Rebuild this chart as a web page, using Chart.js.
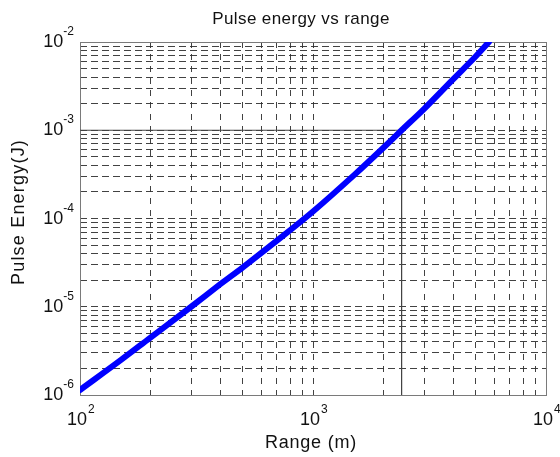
<!DOCTYPE html>
<html>
<head>
<meta charset="utf-8">
<script src="https://cdn.jsdelivr.net/npm/chart.js@4.4.0/dist/chart.umd.min.js"></script>
<style>
  html, body { margin: 0; padding: 0; background: #fff; }
  #wrap { width: 560px; height: 457px; }
</style>
</head>
<body>
<div id="wrap"><canvas id="chart" width="560" height="457"></canvas></div>
<script>
// Pulse energy vs range (log-log)
const rangeM   = [100, 150, 200, 300, 400, 500, 700, 1000, 1500, 2000, 2400, 3000, 4000, 5000, 5690];
const energyJ  = [1.14e-6, 2.5e-6, 4.45e-6, 1.0e-5, 1.8e-5, 2.8e-5, 5.6e-5, 1.2e-4, 3.1e-4, 6.3e-4, 1.0e-3, 1.75e-3, 3.8e-3, 6.9e-3, 1.0e-2];

// reference marker: 1 mJ at ~2.4 km
const refRange  = [100, 2400, 2400];
const refEnergy = [1e-3, 1e-3, 1e-6];

const xDecades = [1e2, 1e3, 1e4];
const yDecades = [1e-6, 1e-5, 1e-4, 1e-3, 1e-2];
const minorSteps = [1, 2, 3, 4, 5, 6, 7, 8, 9];
const xExp = ['2', '3', '4'];
const yExp = ['-6', '-5', '-4', '-3', '-2'];

function gridValues(decades) {
  const out = [];
  decades.forEach((d, i) => {
    if (i === decades.length - 1) { out.push(d); return; }
    minorSteps.forEach(s => out.push(d * s));
  });
  return out;
}
const xTicks = gridValues(xDecades);
const yTicks = gridValues(yDecades);

const FONT = '"Liberation Sans", Arial, sans-serif';

const boxPlugin = {
  id: 'box',
  beforeDatasetsDraw(chart) {
    const { ctx, chartArea: a } = chart;
    ctx.save();
    ctx.strokeStyle = '#7a7a7a';
    ctx.lineWidth = 1;
    ctx.strokeRect(Math.round(a.left) + 0.5, Math.round(a.top) + 0.5,
                   Math.round(a.right - a.left), Math.round(a.bottom - a.top));
    ctx.restore();
  }
};

const textPlugin = {
  id: 'matlabText',
  afterDraw(chart) {
    const { ctx, scales: { x, y } } = chart;
    ctx.save();
    ctx.fillStyle = '#111';
    ctx.textBaseline = 'alphabetic';

    // y tick labels: 10 with superscript exponent
    yDecades.forEach((v, i) => {
      const py = y.getPixelForValue(v);
      ctx.font = '12px ' + FONT;
      ctx.textAlign = 'right';
      const ew = ctx.measureText(yExp[i]).width;
      ctx.fillText(yExp[i], 74, py - 7);
      ctx.font = '18px ' + FONT;
      ctx.fillText('10', 74 - ew, py + 5);
    });

    // x tick labels
    xDecades.forEach((v, i) => {
      const px = x.getPixelForValue(v);
      ctx.font = '18px ' + FONT;
      ctx.textAlign = 'center';
      const bw = ctx.measureText('10').width;
      ctx.fillText('10', px - 3, 425);
      ctx.font = '12px ' + FONT;
      ctx.textAlign = 'left';
      ctx.fillText(xExp[i], px - 3 + bw / 2 + 1, 413);
    });

    // title and axis titles
    ctx.textAlign = 'center';
    ctx.font = '17px ' + FONT;
    ctx.letterSpacing = '0.4px';
    ctx.fillText('Pulse energy vs range', 301, 24);
    ctx.font = '18px ' + FONT;
    ctx.letterSpacing = '0.8px';
    ctx.fillText('Range (m)', 311, 448);
    ctx.translate(24, 212);
    ctx.rotate(-Math.PI / 2);
    ctx.letterSpacing = '1.2px';
    ctx.fillText('Pulse Energy(J)', 0, 0);
    ctx.restore();
  }
};

new Chart(document.getElementById('chart'), {
  type: 'line',
  data: {
    datasets: [
      {
        label: 'Pulse energy',
        data: rangeM.map((r, i) => ({ x: r, y: energyJ[i] })),
        borderColor: '#0000ff',
        borderWidth: 6,
        pointRadius: 0,
        cubicInterpolationMode: 'monotone',
        borderCapStyle: 'round'
      },
      {
        label: 'reference',
        data: refRange.map((r, i) => ({ x: r, y: refEnergy[i] })),
        borderColor: '#444',
        borderWidth: 1,
        pointRadius: 0,
        tension: 0
      }
    ]
  },
  options: {
    responsive: false,
    animation: false,
    layout: { padding: { left: 80, right: 14, top: 42, bottom: 62 } },
    plugins: { legend: { display: false }, tooltip: { enabled: false }, title: { display: false } },
    scales: {
      x: {
        type: 'logarithmic', min: 1e2, max: 1e4,
        afterBuildTicks: s => { s.ticks = xTicks.map(v => ({ value: v })); },
        ticks: { display: false },
        grid: { color: 'rgba(45,45,45,0.9)', lineWidth: 1, drawTicks: false },
        border: { display: false, dash: [6, 6] }
      },
      y: {
        type: 'logarithmic', min: 1e-6, max: 1e-2,
        afterBuildTicks: s => { s.ticks = yTicks.map(v => ({ value: v })); },
        ticks: { display: false },
        grid: { color: 'rgba(45,45,45,0.9)', lineWidth: 1, drawTicks: false },
        border: { display: false, dash: [7, 4] }
      }
    }
  },
  plugins: [boxPlugin, textPlugin]
});
</script>
</body>
</html>
